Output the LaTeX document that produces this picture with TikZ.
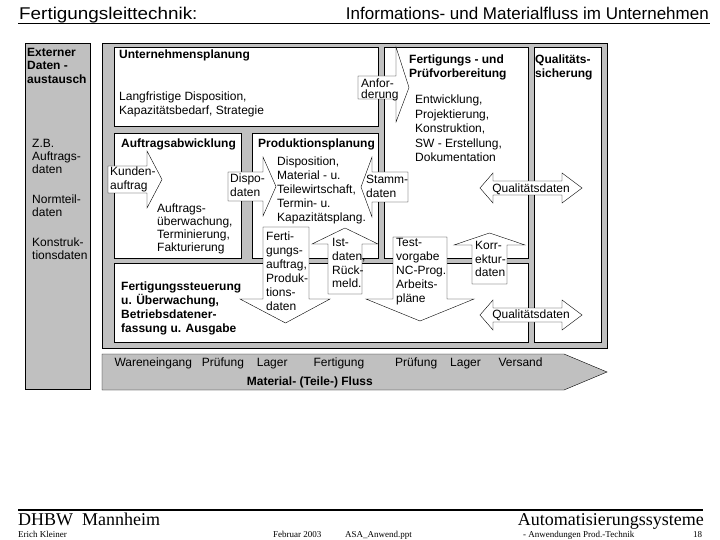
\documentclass[tikz,border=0pt]{standalone}
\usepackage{fontspec}
\setmainfont{Liberation Sans}
\newfontfamily\timesfont{Liberation Serif}
\definecolor{panelgray}{HTML}{C0C0C0}
\begin{document}
\begin{tikzpicture}[x=1pt,y=-1pt,
  box/.style={draw, fill=white},
  pane/.style={draw, fill=panelgray},
  blk/.style={draw, fill=white, line join=miter},
  txt/.style={anchor=north west, inner sep=0pt, align=left, font=\fontsize{12}{#1}\selectfont},
  txt/.default=14,
  hdr/.style={anchor=north west, inner sep=0pt, align=left, font=\fontsize{12}{#1}\selectfont\bfseries},
  hdr/.default=14,
  word/.style={anchor=base west, inner sep=0pt, font=\fontsize{12}{14}\selectfont},
  foot/.style={anchor=base west, inner sep=0pt, font=\timesfont\fontsize{9}{11}\selectfont}]
\useasboundingbox (0,0) rectangle (720,540);
\node[anchor=base west, inner sep=0pt, font=\fontsize{17}{20}\selectfont] (ttl) at (19,19.5) {\scalebox{1.11}[1]{Fertigungsleittechnik:}};
\node[anchor=base east, inner sep=0pt, font=\fontsize{17}{20}\selectfont] (subttl) at (709,19.5) {Informations- und Materialfluss im Unternehmen};
\draw[line width=1.2pt] (18,23.5) -- (710,23.5);
\draw[pane] (25,43) rectangle (90,389);
\draw[pane] (102,43) rectangle (607,348);
\draw[box] (114,47) rectangle (378,126);
\draw[box] (384,47) rectangle (528,258);
\draw[box] (534,47) rectangle (601,342);
\draw[box] (114,133) rectangle (241,258);
\draw[box] (252,133) rectangle (378,258);
\draw[box] (114,263) rectangle (528,342);
\draw[pane] (102,354) -- (564,354) -- (607,372) -- (564,390) -- (102,390) -- cycle;
\draw[blk] (358,76) -- (396,76) -- (396,47) -- (409,87.5) -- (396,122) -- (396,99) -- (358,99) -- cycle;
\draw[blk] (108,166) -- (147,166) -- (147,151) -- (162,179.5) -- (147,208) -- (147,193) -- (108,193) -- cycle;
\draw[blk] (228,172) -- (263,172) -- (263,157) -- (276,186.5) -- (263,216) -- (263,201) -- (228,201) -- cycle;
\draw[blk] (408,172) -- (372,172) -- (372,157) -- (361,187) -- (372,217) -- (372,202) -- (408,202) -- cycle;
\draw[blk] (480,188) -- (493,173) -- (493,181) -- (562,181) -- (562,173) -- (582,188) -- (562,203) -- (562,195) -- (493,195) -- (493,203) -- cycle;
\draw[blk] (480,315) -- (493,300) -- (493,308) -- (562,308) -- (562,300) -- (582,315) -- (562,330) -- (562,322) -- (493,322) -- (493,330) -- cycle;
\draw[blk] (263,227) -- (309,227) -- (309,299) -- (330,299) -- (285.5,323) -- (240,299) -- (263,299) -- cycle;
\draw[blk] (328,294) -- (328,244) -- (312,244) -- (345,228) -- (378,244) -- (362,244) -- (362,294) -- cycle;
\draw[blk] (393,237) -- (447,237) -- (447,299) -- (474,299) -- (420,321) -- (366,299) -- (393,299) -- cycle;
\draw[blk] (472,284) -- (472,245) -- (454,245) -- (489.5,233) -- (525,245) -- (507,245) -- (507,284) -- cycle;
\node[hdr=13.5] (ext) at (27,47.9) {Externer\\Daten -\\austausch};
\node[txt=13] (zb) at (32,139.4) {Z.B.\\Auftrags-\\daten};
\node[txt=13] (norm) at (32,194.4) {Normteil-\\daten};
\node[txt=13] (konst) at (32,237.4) {Konstruk-\\tionsdaten};
\node[hdr] (uplan) at (119,49.7) {Unternehmensplanung};
\node[txt] (uplantxt) at (119,91.4) {Langfristige Disposition,\\Kapazitätsbedarf, Strategie};
\node[hdr] (fvor) at (409,54.7) {Fertigungs - und\\Prüfvorbereitung};
\node[txt=14.6] (fvortxt) at (415,94.6) {Entwicklung,\\Projektierung,\\Konstruktion,\\SW - Erstellung,\\Dokumentation};
\node[hdr] (qsich) at (535,54.7) {Qualitäts-\\sicherung};
\node[hdr] (aab) at (121,138.4) {Auftragsabwicklung};
\node[txt=13.2] (aabtxt) at (157,203.4) {Auftrags-\\überwachung,\\Terminierung,\\Fakturierung};
\node[hdr] (pplan) at (258,138.4) {Produktionsplanung};
\node[txt] (pplantxt) at (277,156.4) {Disposition,\\Material - u.\\Teilewirtschaft,\\Termin- u.\\Kapazitätsplang.};
\node[hdr] (fst) at (121,281.4) {Fertigungssteuerung\\u. Überwachung,\\Betriebsdatener-\\fassung u. Ausgabe};
\node[txt=13.5] (kunden) at (110,167.1) {Kunden-\\auftrag};
\node[txt] (dispo) at (230,173.4) {Dispo-\\daten};
\node[txt] (stamm) at (366,174.7) {Stamm-\\daten};
\node[txt=11] (anf) at (361,78.4) {Anfor-\\derung};
\node[word, anchor=base] (qdata) at (531,192.7) {Qualitätsdaten};
\node[word, anchor=base] (qdatb) at (531,318.3) {Qualitätsdaten};
\node[txt] (fauf) at (266,231.4) {Ferti-\\gungs-\\auftrag,\\Produk-\\tions-\\daten};
\node[txt=13.8] (ist) at (332,238.1) {Ist-\\daten,\\Rück-\\meld.};
\node[txt] (test) at (396,238.1) {Test-\\vorgabe\\NC-Prog.\\Arbeits-\\pläne};
\node[txt=13.3] (korr) at (475,241.4) {Korr-\\ektur-\\daten};
\node[word] (wein) at (114.3,366) {Wareneingang};
\node[word] (pr1) at (201.7,366) {Prüfung};
\node[word] (lag1) at (256.7,366) {Lager};
\node[word] (fert) at (313.3,366) {Fertigung};
\node[word] (pr2) at (395,366) {Prüfung};
\node[word] (lag2) at (450,366) {Lager};
\node[word] (vers) at (498.3,366) {Versand};
\node[word, font=\fontsize{12}{14}\selectfont\bfseries] (mfluss) at (246.7,385) {Material- (Teile-) Fluss};
\draw[line width=2pt] (18,509.5) -- (703,509.5);
\node[anchor=base west, inner sep=0pt, font=\timesfont\fontsize{18}{20}\selectfont] (dhbw) at (18,525) {DHBW\ \ Mannheim};
\node[anchor=base east, inner sep=0pt, font=\timesfont\fontsize{18}{20}\selectfont] (autosys) at (704,525) {Automatisierungssysteme};
\node[foot] (autor) at (18,537.3) {Erich Kleiner};
\node[foot] (datum) at (273,537.3) {Februar 2003};
\node[foot] (datei) at (345,537.3) {ASA\_Anwend.ppt};
\node[foot] (kapitel) at (523,537.3) {- Anwendungen Prod.-Technik};
\node[foot] (seite) at (693,537.3) {18};
\end{tikzpicture}
\end{document}
